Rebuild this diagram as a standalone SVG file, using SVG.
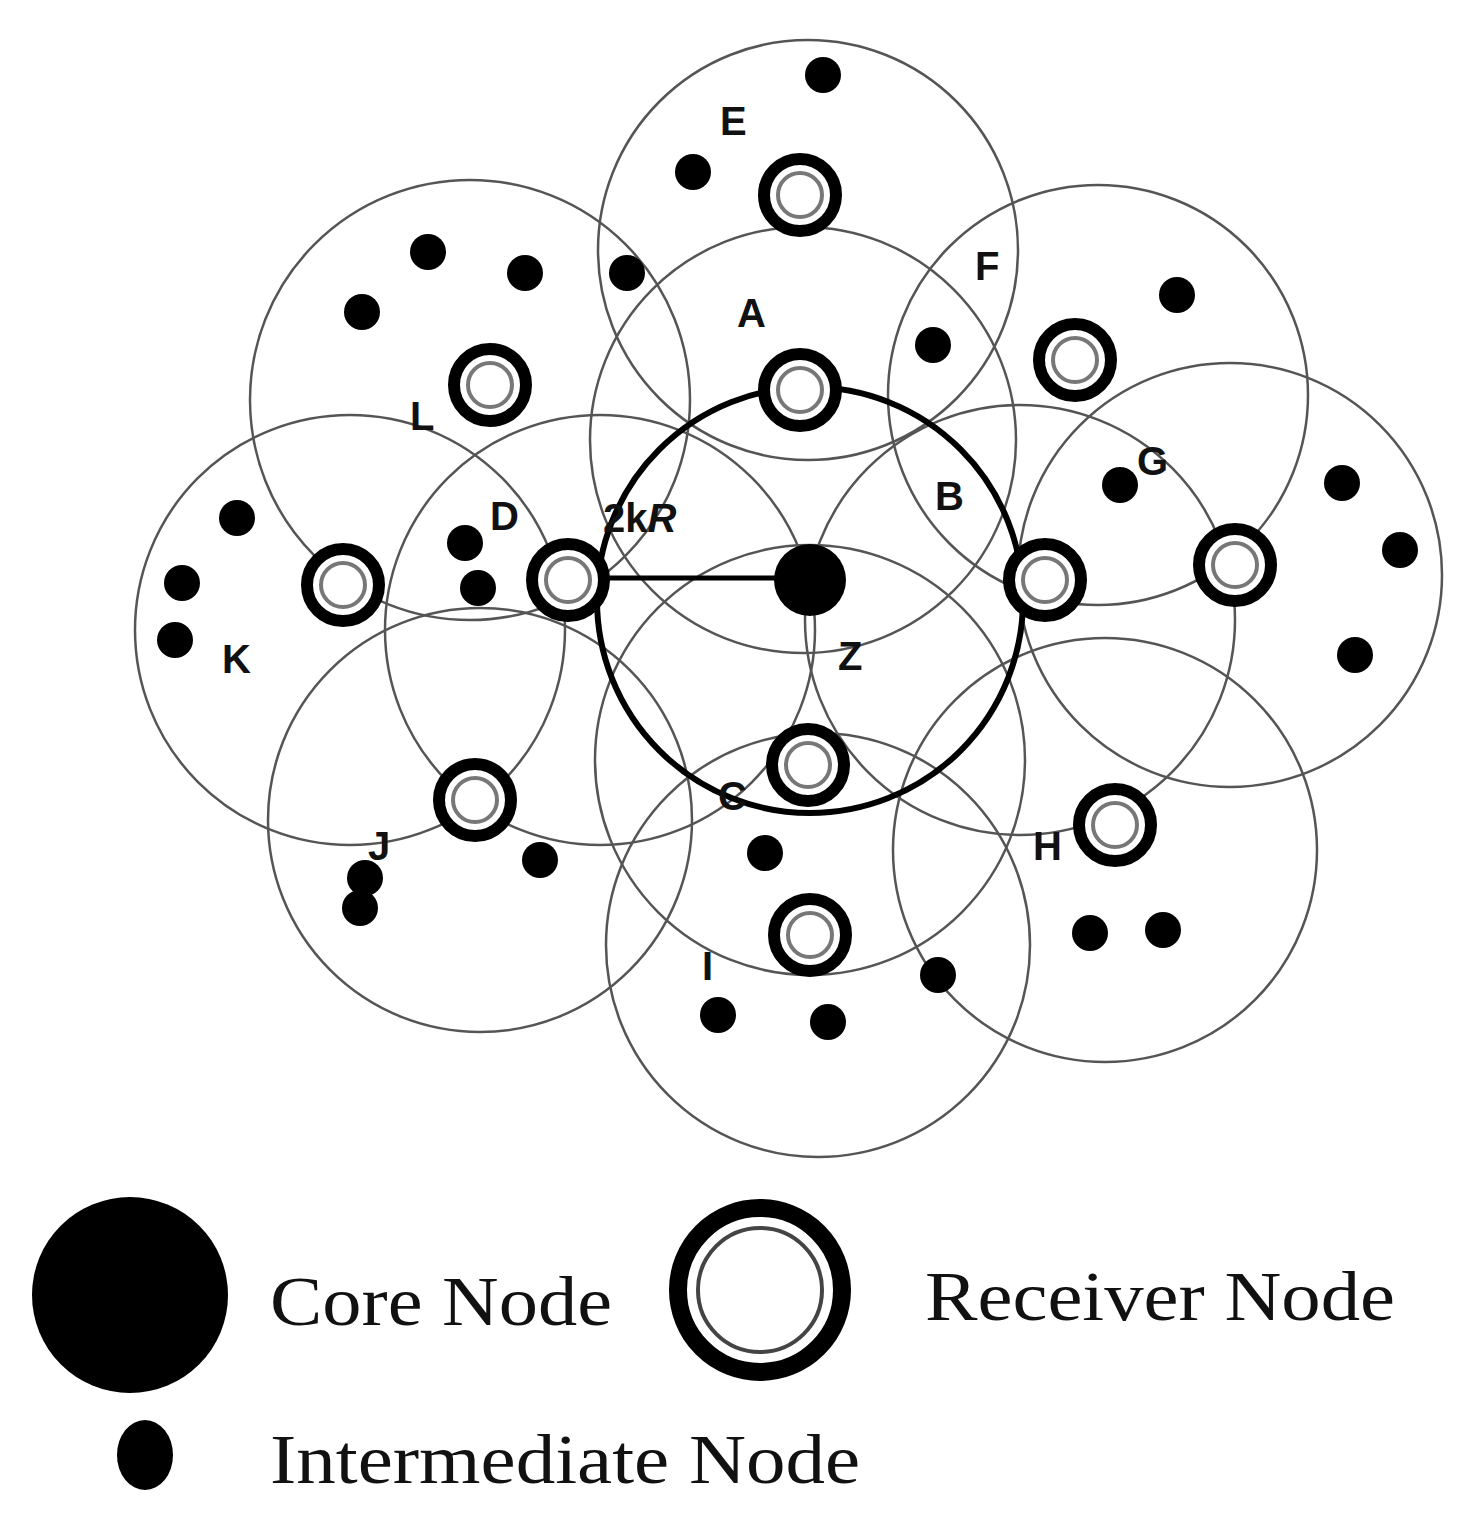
<svg xmlns="http://www.w3.org/2000/svg" width="1473" height="1538" viewBox="0 0 1473 1538">
<style>
.rng{fill:none;stroke:#555;stroke-width:2.5}
.rcv{fill:#fff;stroke:#000;stroke-width:12}
.rin{fill:none;stroke:#777;stroke-width:4}
.dot{fill:#000}
.lb{font-family:"Liberation Sans",Arial,sans-serif;font-weight:bold;font-size:40px;fill:#111}
.lg{font-family:"Liberation Serif","Times New Roman",serif;font-size:70px;fill:#111}
</style>
<rect width="1473" height="1538" fill="#fff"/>
<g id="ranges">
<circle class="rng" cx="808" cy="250" r="210"/>
<circle class="rng" cx="470" cy="400" r="220"/>
<circle class="rng" cx="803" cy="440" r="213"/>
<circle class="rng" cx="1098" cy="395" r="210"/>
<circle class="rng" cx="350" cy="630" r="215"/>
<circle class="rng" cx="600" cy="630" r="215"/>
<circle class="rng" cx="1020" cy="620" r="215"/>
<circle class="rng" cx="1230" cy="575" r="212"/>
<circle class="rng" cx="480" cy="820" r="212"/>
<circle class="rng" cx="810" cy="760" r="215"/>
<circle class="rng" cx="1105" cy="850" r="212"/>
<circle class="rng" cx="818" cy="945" r="212"/>
</g>
<g id="coverage"><circle cx="810" cy="600" r="213" fill="none" stroke="#000" stroke-width="6"/></g>
<g id="connectors"><line x1="605" y1="578" x2="810" y2="578" stroke="#000" stroke-width="5"/></g>
<g id="receivers">
<g id="E"><circle class="rcv" cx="800" cy="195" r="36"/><circle class="rin" cx="800" cy="195" r="22"/></g>
<g id="L"><circle class="rcv" cx="490" cy="385" r="36"/><circle class="rin" cx="490" cy="385" r="22"/></g>
<g id="A"><circle class="rcv" cx="800" cy="390" r="36"/><circle class="rin" cx="800" cy="390" r="22"/></g>
<g id="F"><circle class="rcv" cx="1075" cy="360" r="36"/><circle class="rin" cx="1075" cy="360" r="22"/></g>
<g id="K"><circle class="rcv" cx="343" cy="585" r="36"/><circle class="rin" cx="343" cy="585" r="22"/></g>
<g id="D"><circle class="rcv" cx="568" cy="580" r="36"/><circle class="rin" cx="568" cy="580" r="22"/></g>
<g id="B"><circle class="rcv" cx="1045" cy="580" r="36"/><circle class="rin" cx="1045" cy="580" r="22"/></g>
<g id="G"><circle class="rcv" cx="1235" cy="565" r="36"/><circle class="rin" cx="1235" cy="565" r="22"/></g>
<g id="J"><circle class="rcv" cx="475" cy="800" r="36"/><circle class="rin" cx="475" cy="800" r="22"/></g>
<g id="C"><circle class="rcv" cx="808" cy="765" r="36"/><circle class="rin" cx="808" cy="765" r="22"/></g>
<g id="H"><circle class="rcv" cx="1115" cy="825" r="36"/><circle class="rin" cx="1115" cy="825" r="22"/></g>
<g id="I"><circle class="rcv" cx="810" cy="935" r="36"/><circle class="rin" cx="810" cy="935" r="22"/></g>
</g>
<g id="Z"><circle cx="810" cy="580" r="36" fill="#000"/></g>
<g id="intermediates">
<circle class="dot" cx="823" cy="75" r="18"/><circle class="dot" cx="693" cy="172" r="18"/>
<circle class="dot" cx="428" cy="252" r="18"/><circle class="dot" cx="525" cy="273" r="18"/>
<circle class="dot" cx="627" cy="273" r="18"/><circle class="dot" cx="362" cy="312" r="18"/>
<circle class="dot" cx="933" cy="345" r="18"/><circle class="dot" cx="1177" cy="295" r="18"/>
<circle class="dot" cx="1120" cy="485" r="18"/><circle class="dot" cx="1342" cy="483" r="18"/>
<circle class="dot" cx="1400" cy="550" r="18"/><circle class="dot" cx="1355" cy="655" r="18"/>
<circle class="dot" cx="237" cy="518" r="18"/><circle class="dot" cx="182" cy="583" r="18"/>
<circle class="dot" cx="175" cy="640" r="18"/><circle class="dot" cx="465" cy="543" r="18"/>
<circle class="dot" cx="478" cy="588" r="18"/><circle class="dot" cx="540" cy="860" r="18"/>
<circle class="dot" cx="365" cy="878" r="18"/><circle class="dot" cx="360" cy="908" r="18"/>
<circle class="dot" cx="765" cy="853" r="18"/><circle class="dot" cx="1090" cy="933" r="18"/>
<circle class="dot" cx="1163" cy="930" r="18"/><circle class="dot" cx="938" cy="975" r="18"/>
<circle class="dot" cx="718" cy="1015" r="18"/><circle class="dot" cx="828" cy="1022" r="18"/>
</g>
<g id="labels">
<text class="lb" x="720" y="135">E</text><text class="lb" x="737" y="327">A</text>
<text class="lb" x="975" y="280">F</text><text class="lb" x="410" y="430">L</text>
<text class="lb" x="935" y="510">B</text><text class="lb" x="1137" y="475">G</text>
<text class="lb" x="490" y="530">D</text>
<text class="lb" x="603" y="532">2k<tspan font-style="italic">R</tspan></text>
<text class="lb" x="222" y="673">K</text><text class="lb" x="838" y="670">Z</text>
<text class="lb" x="718" y="810">C</text><text class="lb" x="1033" y="860">H</text>
<text class="lb" x="368" y="860">J</text><text class="lb" x="702" y="980">I</text>
</g>
<g id="legend">
<circle cx="130" cy="1295" r="98" fill="#000"/>
<text class="lg" x="270" y="1325" textLength="342" lengthAdjust="spacingAndGlyphs">Core Node</text>
<circle cx="760" cy="1290" r="82" fill="#fff" stroke="#000" stroke-width="18"/>
<circle cx="760" cy="1290" r="62" fill="none" stroke="#444" stroke-width="4"/>
<text class="lg" x="925" y="1320" textLength="470" lengthAdjust="spacingAndGlyphs">Receiver Node</text>
<ellipse cx="145" cy="1455" rx="28" ry="35" fill="#000"/>
<text class="lg" x="270" y="1483" textLength="590" lengthAdjust="spacingAndGlyphs">Intermediate Node</text>
</g>
</svg>
